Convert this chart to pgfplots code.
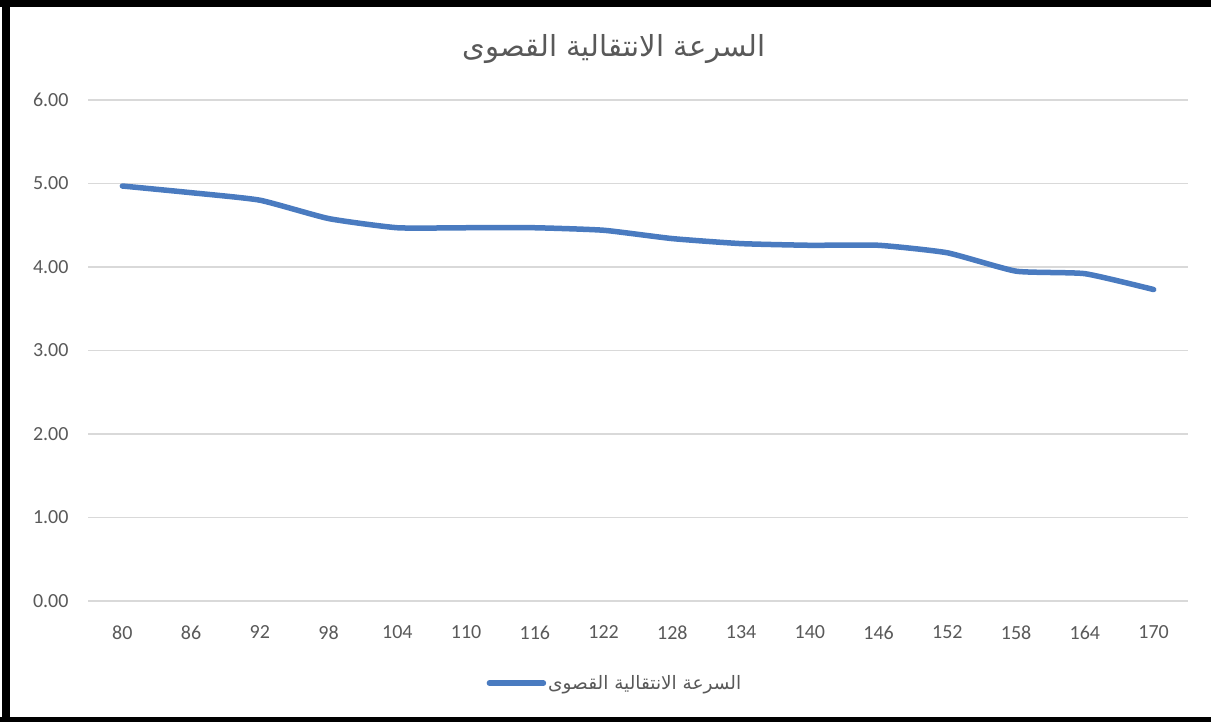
\documentclass[border=0pt]{standalone}
\usepackage{pgfplots}
\pgfplotsset{compat=1.18}
\usepackage{fontspec}
\setmainfont{Carlito}
\newfontfamily\arabicfont[Script=Arabic]{DejaVu Sans}
\TeXXeTstate=1
\definecolor{txt}{HTML}{595959}
\definecolor{gridc}{HTML}{D9D9D9}
\definecolor{linec}{HTML}{4A7BC0}
\pgfplotstableread{
x y
0 4.97
1 4.89
2 4.80
3 4.58
4 4.47
5 4.47
6 4.47
7 4.44
8 4.34
9 4.28
10 4.26
11 4.26
12 4.17
13 3.95
14 3.92
15 3.73
}\speed
\begin{document}
\begin{tikzpicture}
\path[use as bounding box] (0,0) rectangle (1211pt,722pt);
\fill[white] (0,0) rectangle (1211pt,722pt);
\begin{axis}[
  at={(88pt,121pt)}, anchor=south west,
  scale only axis, width=1100pt, height=501pt,
  xmin=-0.5, xmax=15.5, ymin=0, ymax=6,
  xtick={0,...,15},
  xticklabels={80,86,92,98,104,110,116,122,128,134,140,146,152,158,164,170},
  ytick={0,1,2,3,4,5,6},
  axis line style={draw=none}, tick style={draw=none},
  ymajorgrids, grid style={gridc, line width=1.6pt},
  /pgf/number format/assume math mode=true,
  /pgf/number format/fixed,
  /pgf/number format/fixed zerofill,
  /pgf/number format/precision=2,
  ticklabel style={font=\fontsize{20}{24}\selectfont, text=txt},
  yticklabel style={xshift=-16pt},
  xticklabel style={yshift=-21pt},
  clip=false,
  legend style={draw=none, at={(0.479,-0.164)}, anchor=center,
    font=\arabicfont\fontsize{18.5}{22}\selectfont, text=txt,
    legend cell align=left},
  legend image code/.code={\draw[#1, line cap=round] (0pt,0pt) -- (54pt,0pt);},
]
\addplot[linec, line width=5.5pt, smooth, tension=0.3, line cap=round, line join=round] table[x=x,y=y] {\speed};
\addlegendentry{\beginR السرعة الانتقالية القصوى\endR}
\end{axis}
\node[text=txt, font=\arabicfont\fontsize{29}{34}\selectfont] at (614pt,673pt) {\beginR السرعة الانتقالية القصوى\endR};
\fill[black] (0,715pt) rectangle (1211pt,722pt);
\fill[black] (2pt,0) rectangle (10pt,722pt);
\fill[black] (0,0) rectangle (1211pt,5pt);
\end{tikzpicture}
\end{document}
